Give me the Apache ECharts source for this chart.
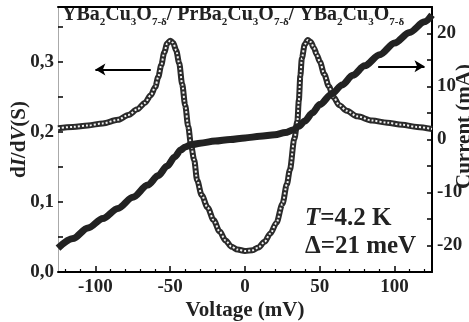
<!DOCTYPE html>
<html>
<head>
<meta charset="utf-8">
<script src="https://cdn.jsdelivr.net/npm/echarts@6/dist/echarts.min.js"></script>
<style>
html, body { margin: 0; padding: 0; background: #fff; }
#echart { width: 469px; height: 322px; }
</style>
</head>
<body>
<div id="echart"></div>
<script>
// dI/dV (open squares, left axis)
var gVoltage = [-125, -115, -105, -95, -85, -78, -72, -67, -63, -60, -58, -56, -54, -52, -50, -48, -46, -44, -42, -40, -38, -36, -34, -32, -29, -25, -21, -17, -13, -9, -5, 0, 5, 9, 13, 17, 21, 25, 28, 30, 33, 35, 36, 37, 38, 40, 42, 44, 46, 48, 50, 53, 56, 59, 63, 68, 75, 85, 95, 105, 115, 125];
var conductance = [0.205, 0.207, 0.209, 0.212, 0.217, 0.224, 0.232, 0.241, 0.252, 0.264, 0.278, 0.295, 0.313, 0.326, 0.330, 0.327, 0.316, 0.298, 0.268, 0.238, 0.208, 0.180, 0.160, 0.131, 0.110, 0.092, 0.074, 0.058, 0.045, 0.036, 0.032, 0.030, 0.031, 0.035, 0.043, 0.055, 0.070, 0.097, 0.125, 0.146, 0.190, 0.215, 0.245, 0.280, 0.305, 0.325, 0.331, 0.328, 0.320, 0.310, 0.300, 0.282, 0.265, 0.250, 0.238, 0.230, 0.222, 0.216, 0.213, 0.210, 0.207, 0.204];

// I-V (filled squares, right axis)
var iVoltage = [-125, -115, -105, -95, -85, -75, -65, -58, -52, -47, -43, -40, -36, -30, -20, -10, 0, 10, 20, 27, 32, 36, 40, 45, 50, 58, 65, 72, 80, 90, 100, 110, 120, 125];
var current = [-20.5, -18.7, -16.7, -14.9, -13.0, -10.9, -8.6, -6.8, -5.0, -3.3, -2.0, -1.4, -1.0, -0.7, -0.3, 0.0, 0.3, 0.6, 0.9, 1.3, 1.8, 2.5, 3.5, 5.0, 6.6, 8.6, 10.3, 12.1, 13.9, 16.0, 18.2, 20.2, 22.2, 23.5];

var xLabels = [-100, -50, 0, 50, 100];
var xMinor = [-120, -110, -90, -80, -70, -60, -40, -30, -20, -10, 10, 20, 30, 40, 60, 70, 80, 90, 110, 120];
var leftLabels = [0, 0.1, 0.2, 0.3];
var leftTicks = [0, 0.05, 0.1, 0.15, 0.2, 0.25, 0.3, 0.35];
var rightLabels = [-20, -10, 0, 10, 20];
var rightTicks = [-20, -15, -10, -5, 0, 5, 10, 15, 20];

var serif = "'Liberation Serif', 'Times New Roman', serif";
var ink = '#222';

function pairs(xs, ys) {
    return xs.map(function (x, i) { return [x, ys[i]]; });
}

var myChart = echarts.init(document.getElementById('echart'));

var labelStyle = { fontFamily: serif, fontWeight: 'bold', fontSize: 19, color: ink };
var nameStyle = { fontFamily: serif, fontWeight: 'bold', fontSize: 21, color: ink };

option = {
    animation: false,
    backgroundColor: '#fff',
    grid: { left: 58, right: 37, top: 7, bottom: 50, outerBoundsMode: 'none', containLabel: false },
    xAxis: [
        {
            type: 'value', position: 'bottom', min: -125, max: 125,
            axisLine: { onZero: false, lineStyle: { color: '#000', width: 2 } },
            axisTick: { inside: true, length: 6, customValues: xLabels, lineStyle: { color: '#000', width: 1.5 } },
            axisLabel: Object.assign({ customValues: xLabels, margin: 6 }, labelStyle),
            splitLine: { show: false },
            name: 'Voltage (mV)', nameLocation: 'middle', nameGap: 28, nameMoveOverlap: false,
            nameTextStyle: nameStyle
        },
        {
            type: 'value', position: 'bottom', min: -125, max: 125,
            axisLine: { show: false, onZero: false },
            axisTick: { inside: true, length: 3, customValues: xMinor, lineStyle: { color: '#000', width: 1.2 } },
            axisLabel: { show: false },
            splitLine: { show: false }
        },
        {
            type: 'value', position: 'top', min: -125, max: 125,
            axisLine: { onZero: false, lineStyle: { color: '#000', width: 2 } },
            axisTick: { show: false },
            axisLabel: { show: false },
            splitLine: { show: false }
        }
    ],
    yAxis: [
        {
            type: 'value', position: 'left', min: 0, max: 0.378,
            axisLine: { show: true, onZero: false, lineStyle: { color: '#aaa', width: 1 } },
            axisTick: { inside: true, length: 5, customValues: leftTicks, lineStyle: { color: '#000', width: 1.5 } },
            axisLabel: Object.assign({
                customValues: leftLabels, margin: 4,
                formatter: function (v) { return v.toFixed(1).replace('.', ','); }
            }, labelStyle),
            splitLine: { show: false },
            name: '{b|d}{i|I}{b|/d}{i|V}{b|(S)}', nameLocation: 'middle', nameGap: 28, nameRotate: 90,
            nameMoveOverlap: false,
            nameTextStyle: {
                rich: {
                    b: nameStyle,
                    i: { fontFamily: serif, fontWeight: 'bold', fontStyle: 'italic', fontSize: 21, color: ink }
                }
            }
        },
        {
            type: 'value', position: 'right', min: -25, max: 25,
            axisLine: { show: true, onZero: false, lineStyle: { color: '#000', width: 2 } },
            axisTick: { inside: true, length: 5, customValues: rightTicks, lineStyle: { color: '#000', width: 1.5 } },
            axisLabel: Object.assign({ customValues: rightLabels, margin: 5 }, labelStyle),
            splitLine: { show: false },
            name: 'Current (mA)', nameLocation: 'middle', nameGap: 22, nameRotate: 90,
            nameMoveOverlap: false,
            nameTextStyle: Object.assign({ padding: [0, 0, 0, 26] }, nameStyle)
        }
    ],
    graphic: [
        {
            type: 'text', left: 62, top: 5,
            style: {
                text: '{m|YBa}{s|2}{m|Cu}{s|3}{m|O}{s|7-δ}{m|/ PrBa}{s|2}{m|Cu}{s|3}{m|O}{s|7-δ}{m|/ YBa}{s|2}{m|Cu}{s|3}{m|O}{s|7-δ}',
                rich: {
                    m: { fontFamily: serif, fontWeight: 'bold', fontSize: 20, lineHeight: 26, fill: ink },
                    s: { fontFamily: serif, fontWeight: 'bold', fontSize: 11, lineHeight: 10, verticalAlign: 'bottom', fill: ink }
                }
            }
        },
        {
            type: 'text', left: 305, top: 206,
            style: {
                text: '{i|T}{b|=4.2 K}\n{b|Δ=21 meV}',
                rich: {
                    b: { fontFamily: serif, fontWeight: 'bold', fontSize: 25, lineHeight: 28, fill: ink },
                    i: { fontFamily: serif, fontWeight: 'bold', fontStyle: 'italic', fontSize: 25, lineHeight: 28, fill: ink }
                }
            }
        }
    ],
    series: [
        {
            name: 'dI/dV',
            type: 'line',
            xAxisIndex: 0, yAxisIndex: 0,
            data: pairs(gVoltage, conductance),
            smooth: 0.3, smoothMonotone: 'x',
            showSymbol: false,
            lineStyle: { color: '#2a2a2a', width: 6 },
            markLine: {
                silent: true,
                symbol: ['none', 'arrow'], symbolSize: [9, 10],
                label: { show: false },
                lineStyle: { color: '#000', width: 2, type: 'solid' },
                data: [[{ coord: [-63, 0.289] }, { coord: [-100, 0.289] }]]
            }
        },
        {
            name: 'dI/dV inner',
            type: 'line',
            xAxisIndex: 0, yAxisIndex: 0,
            data: pairs(gVoltage, conductance),
            smooth: 0.3, smoothMonotone: 'x',
            showSymbol: false,
            lineStyle: { color: '#f2f2f2', width: 2, type: [2, 2] }
        },
        {
            name: 'Current',
            type: 'line',
            xAxisIndex: 0, yAxisIndex: 1,
            data: pairs(iVoltage, current),
            smooth: 0.3, smoothMonotone: 'x',
            showSymbol: false,
            lineStyle: { color: '#222', width: 7 },
            markLine: {
                silent: true,
                symbol: ['none', 'arrow'], symbolSize: [9, 10],
                label: { show: false },
                lineStyle: { color: '#000', width: 2, type: 'solid' },
                data: [[{ coord: [89, 13.8] }, { coord: [120, 13.8] }]]
            }
        }
    ]
};
myChart.setOption(option);
</script>
</body>
</html>
